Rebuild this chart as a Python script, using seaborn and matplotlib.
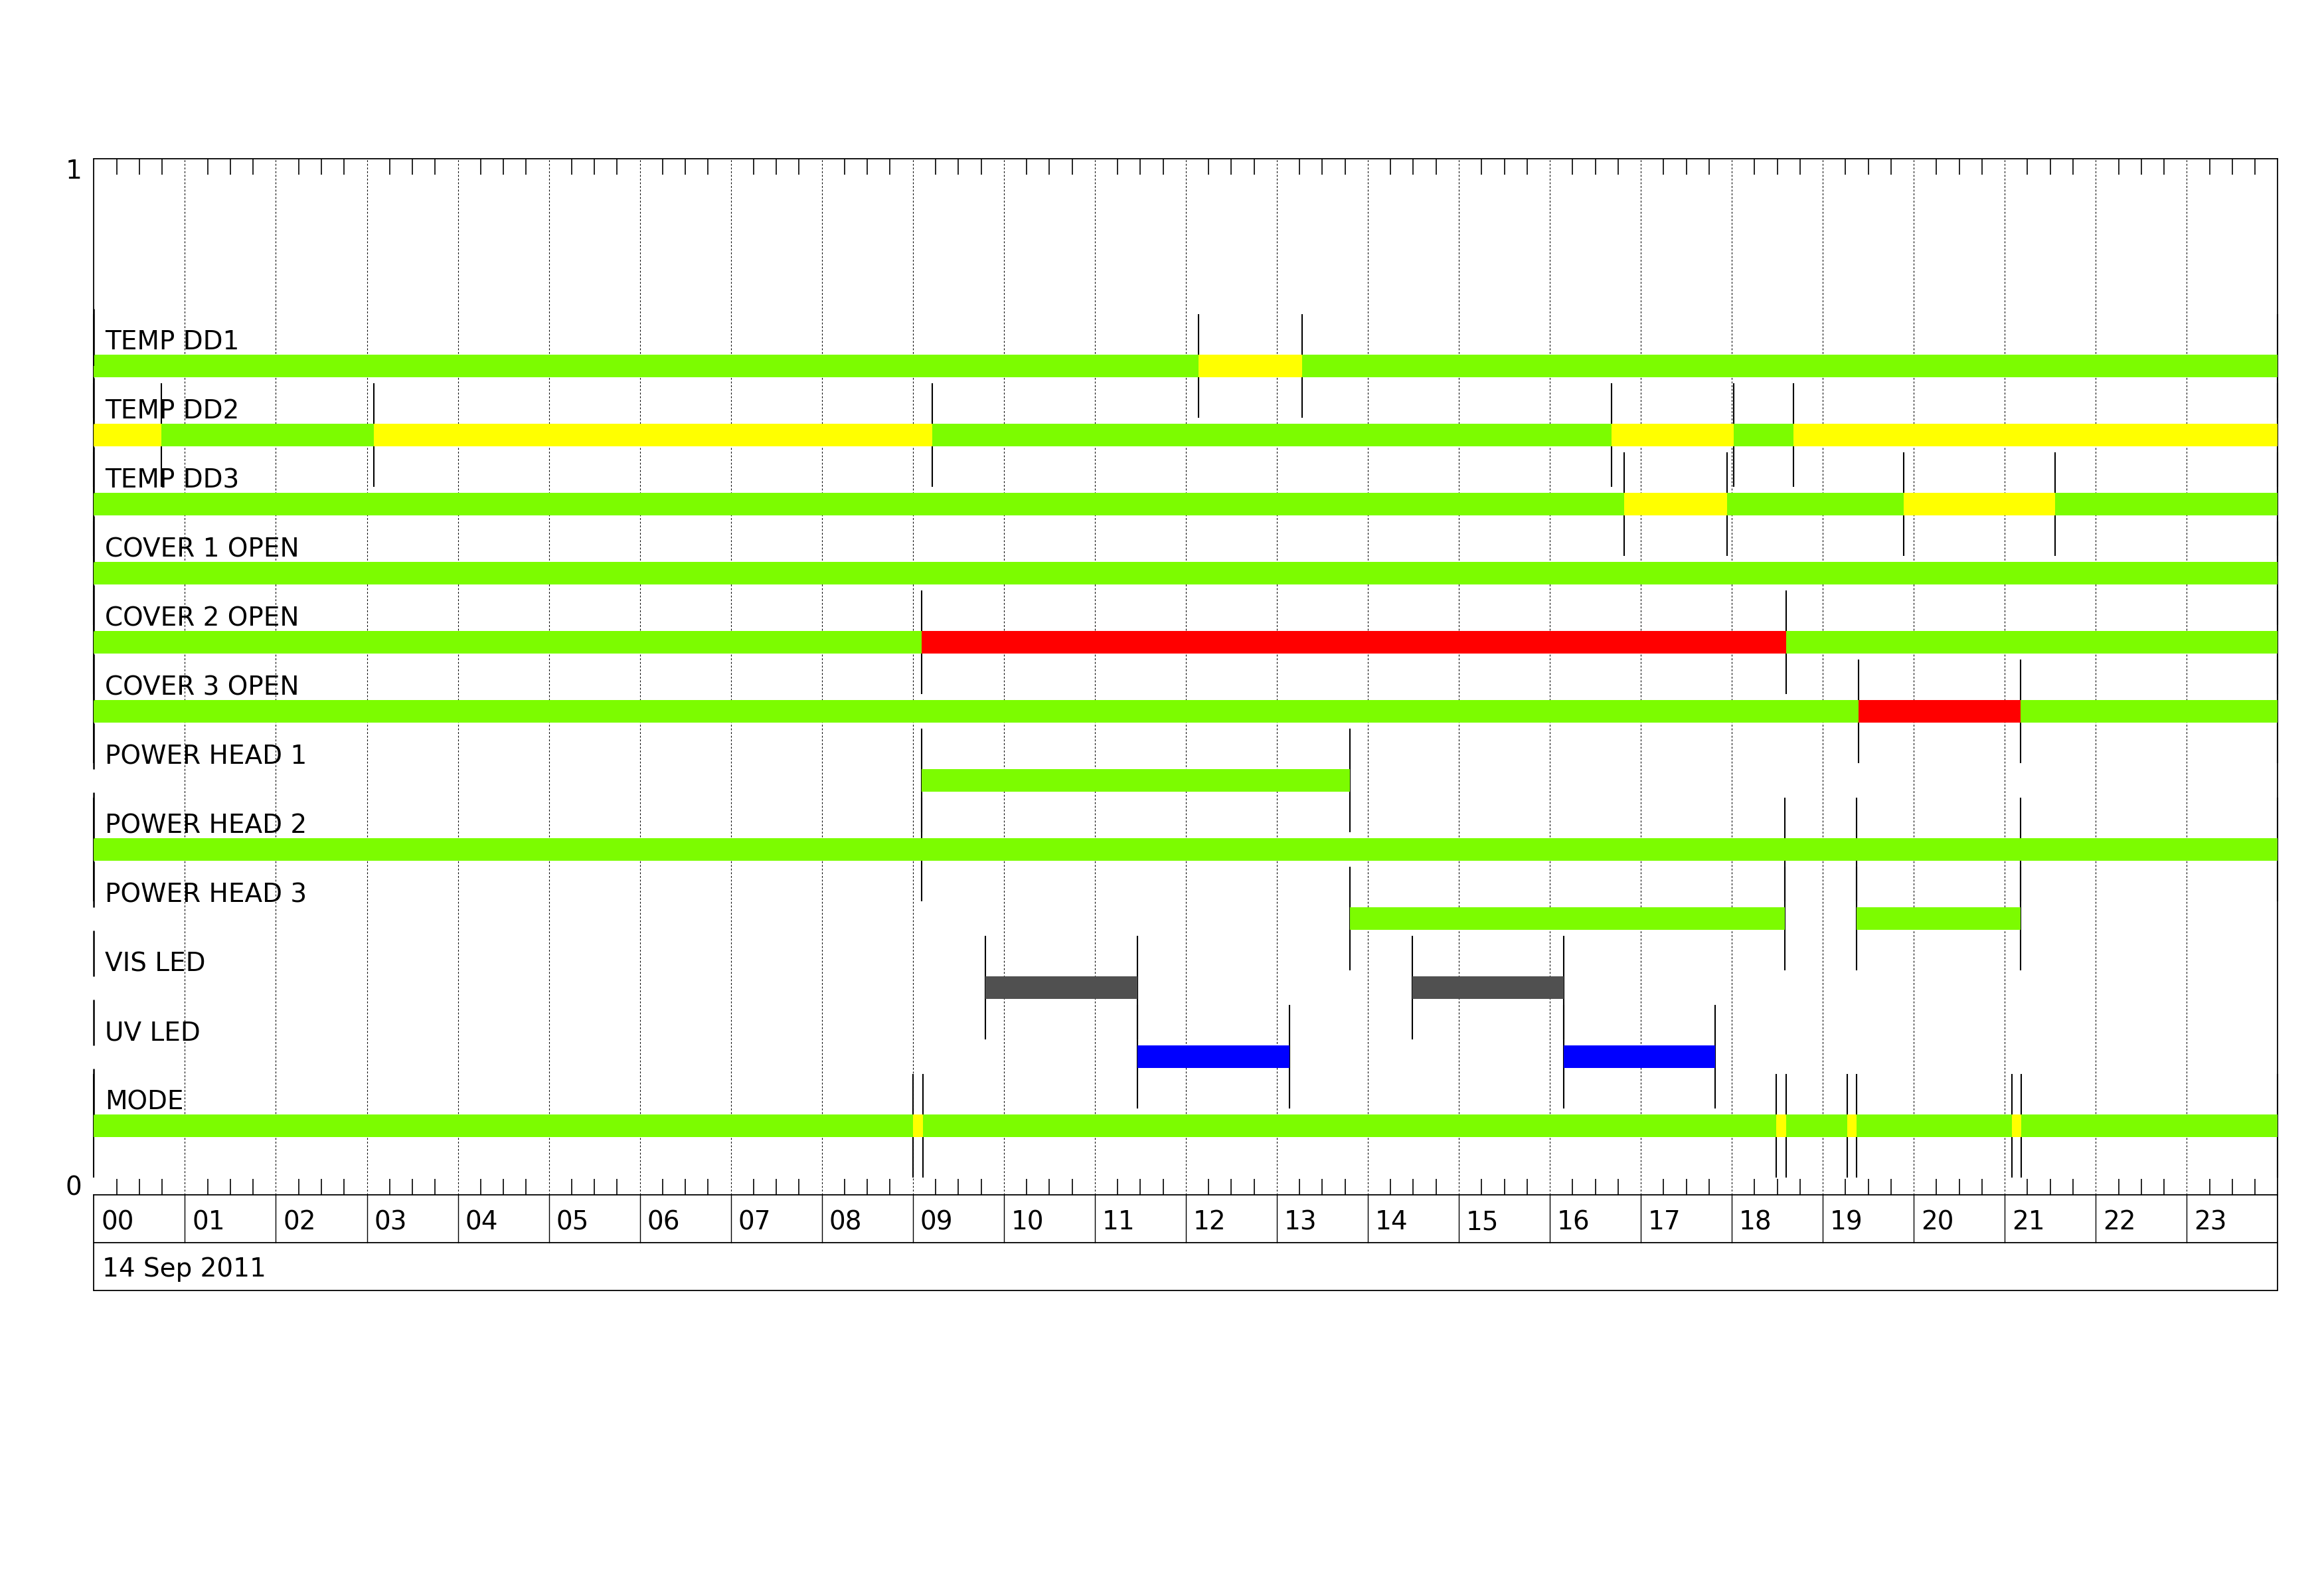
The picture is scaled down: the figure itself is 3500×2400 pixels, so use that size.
import matplotlib
matplotlib.use("Agg")
import matplotlib.pyplot as plt
from matplotlib.ticker import MultipleLocator, NullFormatter
import seaborn as sns
import pandas as pd

# ---------------- data ----------------
ROW_NAMES = ["TEMP DD1", "TEMP DD2", "TEMP DD3", "COVER 1 OPEN", "COVER 2 OPEN",
             "COVER 3 OPEN", "POWER HEAD 1", "POWER HEAD 2", "POWER HEAD 3",
             "VIS LED", "UV LED", "MODE"]

# segments per row: (start hour, end hour, state)
TEMP_DD1 = [(0, 12.14, "ok"), (12.14, 13.28, "warn"), (13.28, 24, "ok")]
TEMP_DD2 = [(0, 0.74, "warn"), (0.74, 3.08, "ok"), (3.08, 9.21, "warn"), (9.21, 16.68, "ok"),
            (16.68, 18.02, "warn"), (18.02, 18.68, "ok"), (18.68, 24, "warn")]
TEMP_DD3 = [(0, 16.82, "ok"), (16.82, 17.95, "warn"), (17.95, 19.89, "ok"),
            (19.89, 21.55, "warn"), (21.55, 24, "ok")]
COVER_1 = [(0, 24, "ok")]
COVER_2 = [(0, 9.10, "ok"), (9.10, 18.60, "alarm"), (18.60, 24, "ok")]
COVER_3 = [(0, 19.39, "ok"), (19.39, 21.17, "alarm"), (21.17, 24, "ok")]
POWER_1 = [(9.10, 13.80, "ok")]
POWER_2 = [(0, 9.10, "ok"), (9.10, 18.58, "ok"), (18.58, 19.37, "ok"),
           (19.37, 21.17, "ok"), (21.17, 24, "ok")]
POWER_3 = [(13.80, 18.58, "ok"), (19.37, 21.17, "ok")]
VIS_LED = [(9.80, 11.47, "vis"), (14.49, 16.15, "vis")]
UV_LED = [(11.47, 13.14, "uv"), (16.15, 17.82, "uv")]
MODE = [(0, 9.00, "ok"), (9.00, 9.11, "warn"), (9.11, 18.49, "ok"), (18.49, 18.60, "warn"),
        (18.60, 19.27, "ok"), (19.27, 19.37, "warn"), (19.37, 21.08, "ok"),
        (21.08, 21.18, "warn"), (21.18, 24, "ok")]

ROW_SEGMENTS = [TEMP_DD1, TEMP_DD2, TEMP_DD3, COVER_1, COVER_2, COVER_3,
                POWER_1, POWER_2, POWER_3, VIS_LED, UV_LED, MODE]

STATE_COLORS = {"ok": "#7CFC00", "warn": "#FFFF00", "alarm": "#FF0000",
                "vis": "#505050", "uv": "#0000FF"}

HOUR_LABELS = [f"{h:02d}" for h in range(24)]
DATE_LABEL = "14 Sep 2011"

# ---------------- table ----------------
n_rows = len(ROW_NAMES)
records = []
for i, (name, segs) in enumerate(zip(ROW_NAMES, ROW_SEGMENTS)):
    yc = (n_rows - i) / 15.0
    for s, e, st in segs:
        records.append({"row": name, "y": yc, "start": s, "end": e, "state": st})
df = pd.DataFrame(records)

# ---------------- plot ----------------
sns.set_theme(style="white")
plt.rcParams['font.family'] = ['DejaVu Sans']
FS = 28

fig = plt.figure(figsize=(35, 24), dpi=100)
ax = fig.add_axes([0.0404, 0.2504, 0.9397, 0.65])
ax.set_xlim(0, 24)
ax.set_ylim(0, 1)
ax.set_facecolor("white")

for side in ["top", "right", "bottom"]:
    ax.spines[side].set_color("black")
    ax.spines[side].set_linewidth(1.3)
ax.spines["left"].set_visible(False)

# ticks: minor every 15 min, top and bottom, inward
ax.xaxis.set_major_locator(MultipleLocator(1))
ax.xaxis.set_minor_locator(MultipleLocator(0.25))
ax.xaxis.set_major_formatter(NullFormatter())
ax.tick_params(axis="x", which="major", length=0, top=True, bottom=True)
ax.tick_params(axis="x", which="minor", direction="in", length=17, width=1.2,
               color="black", top=True, bottom=True)
ax.set_yticks([])

# dashed hour grid lines
ax.vlines(range(1, 24), 0, 1, colors="black", linestyles=(0, (2.5, 2.5)),
          linewidth=0.8, zorder=1)

# left frame part at top
ax.vlines(0, 0.80, 1.0, colors="black", linewidth=1.3, clip_on=False, zorder=4)

bar_h = 0.0213
for i, (name, segs) in enumerate(zip(ROW_NAMES, ROW_SEGMENTS)):
    yc = (n_rows - i) / 15.0
    sub = df[df["row"] == name]
    # transition markers
    bounds = sorted(set(list(sub["start"]) + list(sub["end"])))
    ax.vlines(bounds, yc - 0.05, yc + 0.05, colors="black", linewidth=1.5,
              clip_on=False, zorder=2)
    # label tick at left edge
    ax.vlines(0, yc + 0.011, yc + 0.055, colors="black", linewidth=1.8,
              clip_on=False, zorder=4)
    # bars
    ax.barh(sub["y"], sub["end"] - sub["start"], left=sub["start"], height=bar_h,
            color=[STATE_COLORS[s] for s in sub["state"]], linewidth=0, zorder=3)
    ax.text(0.12, yc + 0.016, name, fontsize=FS, va="baseline", ha="left",
            color="black", zorder=5)

# y labels
ax.text(-0.13, 1.0, "1", fontsize=FS, ha="right", va="top", color="black")
ax.text(-0.13, 0.0, "0", fontsize=FS, ha="right", va="baseline", color="black")

# hour label boxes and date box below
yb1, yb2 = -0.0462, -0.0923
lw_box = 1.3
ax.plot([0, 24], [yb1, yb1], color="black", lw=lw_box, clip_on=False)
ax.plot([0, 24], [yb2, yb2], color="black", lw=lw_box, clip_on=False)
ax.plot([0, 0], [0, yb2], color="black", lw=lw_box, clip_on=False)
ax.plot([24, 24], [0, yb2], color="black", lw=lw_box, clip_on=False)
for h in range(1, 24):
    ax.plot([h, h], [0, yb1], color="black", lw=1.0, clip_on=False)
for h, lab in enumerate(HOUR_LABELS):
    ax.text(h + 0.08, -0.0265, lab, fontsize=FS, ha="left", va="center", color="black")
ax.text(0.09, -0.0715, DATE_LABEL, fontsize=FS, ha="left", va="center", color="black")

fig.savefig("out.png", dpi=100, facecolor="white")
